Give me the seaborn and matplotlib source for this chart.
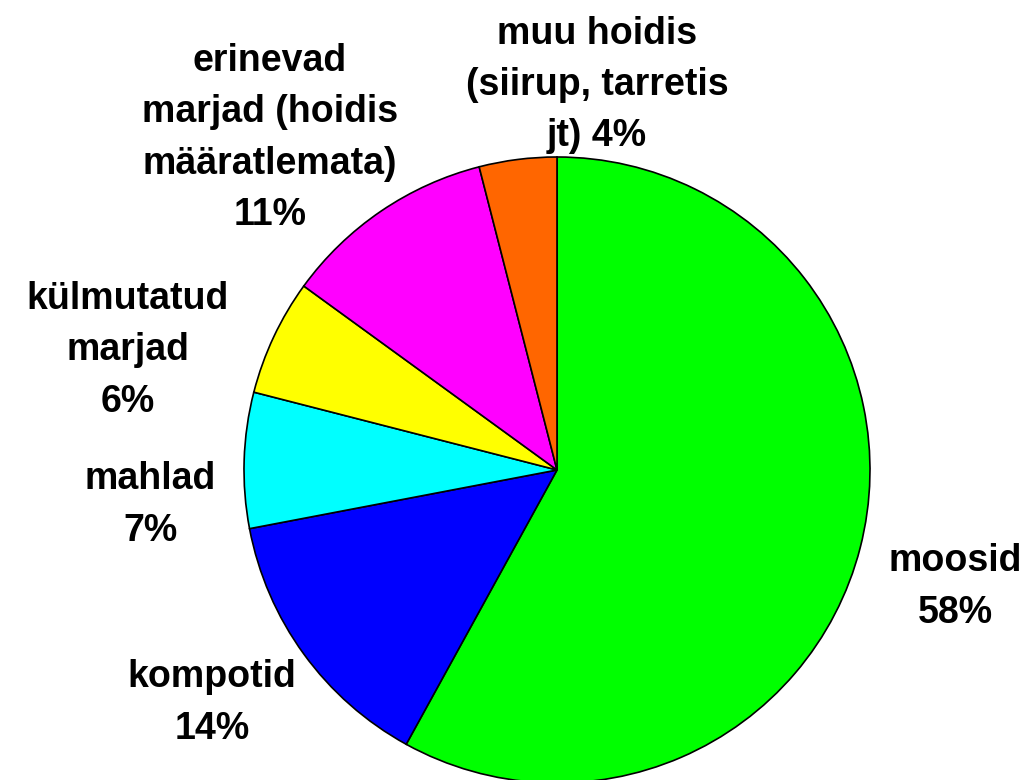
import matplotlib
matplotlib.use("Agg")
import matplotlib.pyplot as plt
import seaborn as sns

sns.set_style("white")
plt.rcParams['font.family'] = ['Liberation Sans', 'DejaVu Sans']

categories = ["moosid", "kompotid", "mahlad", "külmutatud marjad",
              "erinevad marjad (hoidis määratlemata)", "muu hoidis (siirup, tarretis jt)"]
values = [58, 14, 7, 6, 11, 4]
colors = ["#00FF00", "#0000FF", "#00FFFF", "#FFFF00", "#FF00FF", "#FF6600"]
label_text = ["moosid\n58%", "kompotid\n14%", "mahlad\n7%", "külmutatud\nmarjad\n6%",
              "erinevad\nmarjad (hoidis\nmääratlemata)\n11%", "muu hoidis\n(siirup, tarretis\njt) 4%"]
label_pos = [(1.272, -0.374), (-1.102, -0.744), (-1.300, -0.112), (-1.371, 0.383),
             (-0.917, 1.061), (0.128, 1.230)]

palette = sns.color_palette(colors)

fig = plt.figure(figsize=(10.28, 7.80), dpi=100)
ax = fig.add_axes([0, 0, 1, 1])
ax.pie(values, colors=palette, startangle=90, counterclock=False, radius=1.0,
       wedgeprops=dict(edgecolor="black", linewidth=1.2))
for txt, (x, y) in zip(label_text, label_pos):
    ax.text(x, y, txt, ha="center", va="center", fontsize=27, fontweight="bold",
            linespacing=1.55, color="black")
ax.set_xlim(-557/313, (1028-557)/313)
ax.set_ylim(-(780-470)/313, 470/313)
ax.set_aspect("equal")
ax.axis("off")
fig.savefig("out.png", dpi=100)
